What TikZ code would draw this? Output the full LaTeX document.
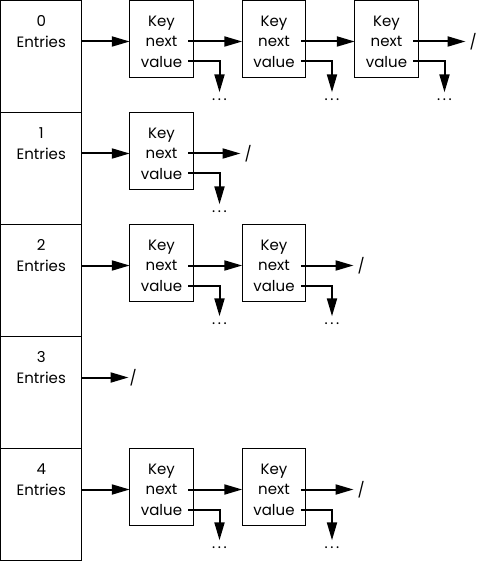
\documentclass[tikz,border=0pt]{standalone}
\usepackage{fontspec}
\setmainfont{Poppins}
\usepackage{tikz}
\usetikzlibrary{calc}
\usetikzlibrary{arrows.meta}
\tikzset{
  bucket/.style={draw, line width=1pt, minimum width=80.5pt, minimum height=112pt, inner sep=0pt, outer sep=0pt},
  entrybox/.style={draw, line width=1pt, minimum width=63.5pt, minimum height=76.5pt, inner sep=0pt, outer sep=0pt},
  fields/.style={align=center, font=\fontsize{15}{20.5}\selectfont, inner sep=0pt},
  tag/.style={align=center, font=\fontsize{15}{20.5}\selectfont, inner sep=0pt},
  more/.style={inner sep=0pt, text height=6pt, text depth=0pt, font=\fontsize{15}{18}\selectfont},
  nil/.style={anchor=west, inner sep=4pt, font=\fontsize{15}{18}\selectfont},
  ptr/.style={line width=2pt, -{Triangle[length=18pt,width=10pt]}}
}
\newcommand{\entry}[3]{\node[entrybox] (#1) at (#2,#3) {}; \node[fields] (#1f) at ($(#1)+(0,2.75)$) {Key\\next\\value}; \node[more] (#1m) at ($(#1)+(58,58.5)$) {.\kern2.6pt.\kern2.6pt.}; \draw[ptr, shorten >=2pt] ([xshift=-5pt,yshift=-22.5pt]#1.east) -| (#1m.north);}

\begin{document}
\begin{tikzpicture}[x=1pt, y=-1pt]
    \useasboundingbox (-0.5,-0.5) rectangle (482.5,560.5);
    \foreach \i in {0,...,4} {
        \node[bucket] (b\i) at (40.75,56+112*\i) {};
        \node[tag] (t\i) at (40.75,31+112*\i) {\i\\Entries};
    }

    \entry{e00}{161}{38.5}
    \entry{e01}{273.5}{38.5}
    \entry{e02}{386}{38.5}
    \entry{e10}{161}{150.5}
    \entry{e20}{161}{262.5}
    \entry{e21}{273.5}{262.5}
    \entry{e40}{161}{486.5}
    \entry{e41}{273.5}{486.5}

    \node[nil] (n0) at (465,41) {/};
    \node[nil] (n1) at (240,153) {/};
    \node[nil] (n2) at (353,265) {/};
    \node[nil, inner sep=1pt] (n3) at (128,377) {/};
    \node[nil] (n4) at (353,489) {/};

    \draw[ptr] ([yshift=15pt]b0.east) -- ([yshift=-2.5pt]e00.west);
    \draw[ptr] ([xshift=-5pt,yshift=-2.5pt]e00.east) -- ([yshift=-2.5pt]e01.west);
    \draw[ptr] ([xshift=-5pt,yshift=-2.5pt]e01.east) -- ([yshift=-2.5pt]e02.west);
    \draw[ptr] ([xshift=-5pt,yshift=-2.5pt]e02.east) -- (n0.west);

    \draw[ptr] ([yshift=15pt]b1.east) -- ([yshift=-2.5pt]e10.west);
    \draw[ptr] ([xshift=-5pt,yshift=-2.5pt]e10.east) -- (n1.west);

    \draw[ptr] ([yshift=15pt]b2.east) -- ([yshift=-2.5pt]e20.west);
    \draw[ptr] ([xshift=-5pt,yshift=-2.5pt]e20.east) -- ([yshift=-2.5pt]e21.west);
    \draw[ptr] ([xshift=-5pt,yshift=-2.5pt]e21.east) -- (n2.west);

    \draw[ptr] ([yshift=15pt]b3.east) -- (n3.west);

    \draw[ptr] ([yshift=15pt]b4.east) -- ([yshift=-2.5pt]e40.west);
    \draw[ptr] ([xshift=-5pt,yshift=-2.5pt]e40.east) -- ([yshift=-2.5pt]e41.west);
    \draw[ptr] ([xshift=-5pt,yshift=-2.5pt]e41.east) -- (n4.west);
\end{tikzpicture}
\end{document}
